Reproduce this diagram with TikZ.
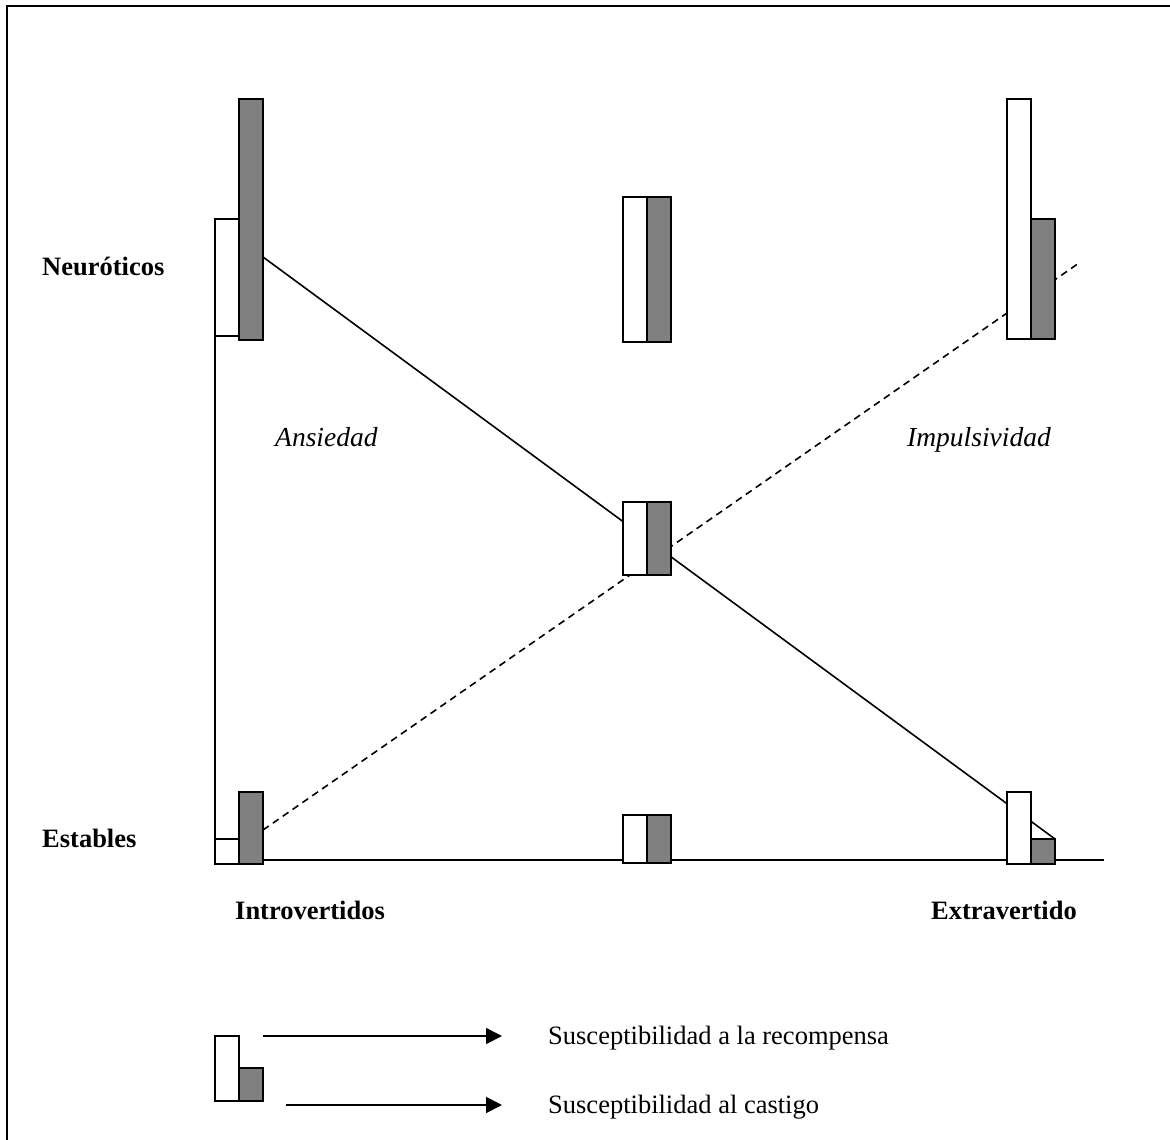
\documentclass[tikz,border=0pt]{standalone}
\usepackage{fontspec}
\setmainfont{Liberation Serif}
\usetikzlibrary{arrows.meta}

\definecolor{bargray}{HTML}{808080}

\begin{document}
\begin{tikzpicture}[x=1pt,y=-1pt,
  rewardbar/.style={draw=black,line width=1.7pt,fill=white},
  punishbar/.style={draw=black,line width=1.7pt,fill=bargray},
  axisline/.style={line width=1.7pt},
  trendline/.style={line width=1.6pt},
  lbl/.style={inner sep=0pt,font=\fontsize{26.5}{30}\selectfont},
  boldlbl/.style={lbl,font=\fontsize{26.5}{30}\selectfont\bfseries},
  itlbl/.style={lbl,font=\fontsize{27.5}{30}\selectfont\itshape},
  legendarrow/.style={line width=1.7pt,-{Triangle[length=16pt,width=16pt]}}]

\useasboundingbox (0,0) rectangle (1170,1140);
\fill[white] (0,0) rectangle (1170,1140);

% outer frame (top and left edges)
\draw[line width=1.5pt] (7,1140) -- (7,6) -- (1170,6);

% end points of the two trend lines
\coordinate (anxStart) at (263,257);
\coordinate (anxEnd)   at (1055,839);
\coordinate (impStart) at (263,830);
\coordinate (impEnd)   at (1079,263);

% axes
\coordinate (axTop)   at (215,336);
\coordinate (axLow)   at (215,839);
\coordinate (axStart) at (263,860);
\coordinate (axEnd)   at (1104,860);
\draw[axisline] (axTop) -- (axLow);
\draw[axisline] (axStart) -- (axEnd);

% trend lines (behind the bars)
\draw[trendline] (anxStart) -- (anxEnd);
\draw[trendline,dash pattern=on 7pt off 5pt] (impStart) -- (impEnd);

% bars: white = reward, gray = punishment
% neurotic introvert
\draw[rewardbar] (215,219) rectangle (239,336);
\draw[punishbar] (239,99) rectangle (263,340);
% neurotic ambivert
\draw[rewardbar] (623,197) rectangle (647,342);
\draw[punishbar] (647,197) rectangle (671,342);
% neurotic extravert
\draw[rewardbar] (1007,99) rectangle (1031,339);
\draw[punishbar] (1031,219) rectangle (1055,339);
% centre
\draw[rewardbar] (623,502) rectangle (647,575);
\draw[punishbar] (647,502) rectangle (671,575);
% stable introvert
\draw[rewardbar] (215,839) rectangle (239,864);
\draw[punishbar] (239,792) rectangle (263,864);
% stable ambivert
\draw[rewardbar] (623,815) rectangle (647,863);
\draw[punishbar] (647,815) rectangle (671,863);
% stable extravert
\draw[rewardbar] (1007,792) rectangle (1031,864);
\draw[punishbar] (1031,839) rectangle (1055,864);

% axis labels
\node[boldlbl,anchor=base west] (neuro) at (42,275) {Neuróticos};
\node[boldlbl,anchor=base west] (estab) at (42,847) {Estables};
\node[boldlbl,anchor=base west] (intro) at (235,919) {Introvertidos};
\node[boldlbl,anchor=base east] (extra) at (1077,919) {Extravertido};
\node[itlbl,anchor=base west] (ansi) at (275,446) {Ansiedad};
\node[itlbl,anchor=base west] (impu) at (907,446) {Impulsividad};

% legend
\draw[rewardbar] (215,1036) rectangle (239,1101);
\draw[punishbar] (239,1068) rectangle (263,1101);
\node[lbl,anchor=base west] (recomp) at (548,1044) {Susceptibilidad a la recompensa};
\node[lbl,anchor=base west] (castigo) at (548,1113) {Susceptibilidad al castigo};
\coordinate (rewTail) at (263,1036);
\coordinate (punTail) at (286,1105);
\coordinate (rewHead) at (502,1036);
\coordinate (punHead) at (502,1105);
\draw[legendarrow] (rewTail) -- (rewHead);
\draw[legendarrow] (punTail) -- (punHead);

\end{tikzpicture}
\end{document}
